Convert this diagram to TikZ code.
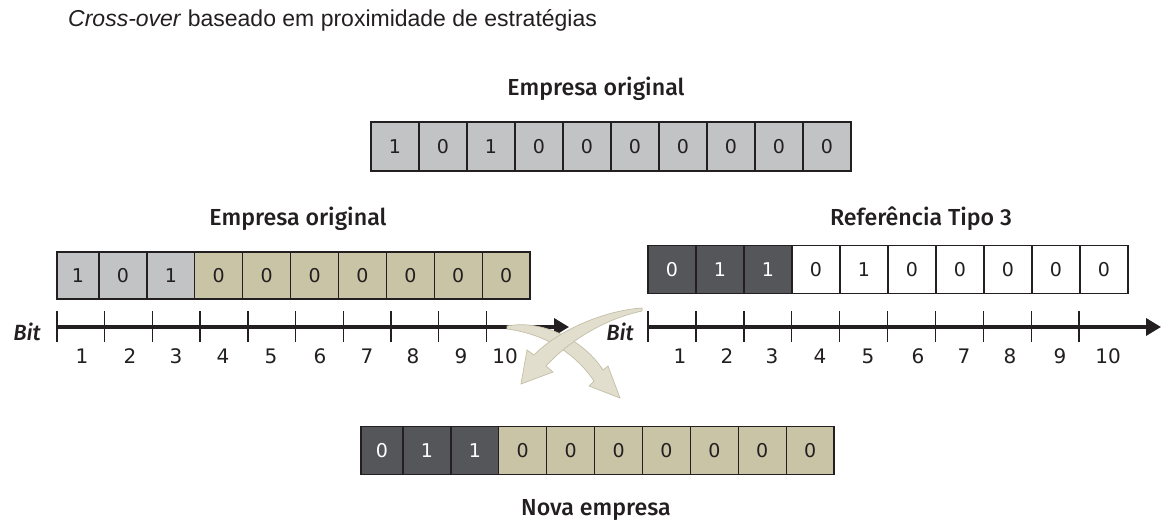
\documentclass[tikz,border=0pt]{standalone}
\usepackage{fontspec}
\setmainfont{Liberation Sans}
\newfontfamily\medfont{Fira Sans}[UprightFont=* Medium, ItalicFont=* Medium Italic, BoldFont=* Medium]
\newfontfamily\digfont{DejaVu Sans}
\usetikzlibrary{arrows.meta}
\definecolor{lg}{HTML}{C2C3C5}
\definecolor{kh}{HTML}{C9C4A6}
\definecolor{dk}{HTML}{55565A}
\definecolor{ln}{HTML}{231F20}
\definecolor{arf}{HTML}{E2DECD}
\definecolor{are}{HTML}{C3BEA6}
\begin{document}
\begin{tikzpicture}[x=1pt,y=-1pt,
  cell/.style={draw=ln, line width=1.3pt, inner sep=0pt, font=\digfont\fontsize{19}{19}\selectfont, text=ln},
  darkcell/.style={cell, fill=dk, text=white},
  head/.style={font=\medfont\fontsize{23.2}{23}\selectfont, text=ln, inner sep=0pt},
  lab/.style={font=\digfont\fontsize{20}{20}\selectfont, text=ln, inner sep=0pt},
  bitlab/.style={font=\medfont\itshape\fontsize{22}{22}\selectfont, text=ln, inner sep=0pt},
  axis/.style={draw=ln, line width=3.5pt, -{Triangle[length=15pt,width=17pt]}},
  tickmark/.style={draw=ln, line width=1.4pt},
  crossarrow/.style={fill=arf, draw=are, line width=0.7pt}]
\useasboundingbox (0,0) rectangle (1169,521);

% title
\node[anchor=west, font=\fontsize{23}{23}\selectfont, text=ln, inner sep=0pt] (title) at (68,20) {\textit{Cross-over} baseado em proximidade de estratégias};

% top array
\node[head] (h1) at (596,89) {Empresa original};
\foreach \v [count=\i] in {1,0,1,0,0,0,0,0,0,0}
  \node[cell, fill=lg, minimum width=48pt, minimum height=49pt] (t\i) at ({371+48*(\i-1)+24},146.5) {\v};

% left array
\node[head] (h2) at (298,219) {Empresa original};
\foreach \v [count=\i] in {1,0,1,0,0,0,0,0,0,0}{
  \pgfmathsetmacro\L{\i==1 ? 57 : 99+47.9*(\i-2)}
  \pgfmathsetmacro\R{99+47.9*(\i-1)}
  \pgfmathsetmacro\C{(\L+\R)/2}
  \pgfmathsetmacro\W{\R-\L}
  \ifnum\i<4
    \node[cell, fill=lg, minimum width=\W pt, minimum height=47pt] (l\i) at (\C,275.5) {\v};
  \else
    \node[cell, fill=kh, minimum width=\W pt, minimum height=47pt] (l\i) at (\C,275.5) {\v};
  \fi
}
\coordinate (ax1s) at (57,327);
\coordinate (ax1e) at (569,327);
\draw[axis] (ax1s) -- (ax1e);
\foreach \k in {0,...,9}
  \draw[tickmark] ({57+47.7*\k},311) -- ++(0,31);
\foreach \x [count=\i] in {82,130,176,223,271,320,367,413,461,505}
  \node[lab] (la\i) at (\x,356) {\i};
\node[bitlab] (bit1) at (27,332) {Bit};

% right array
\node[head] (h3) at (921,219) {Referência Tipo 3};
\foreach \v [count=\i] in {0,1,1,0,1,0,0,0,0,0}{
  \ifnum\i<4
    \node[darkcell, minimum width=48pt, minimum height=47.5pt] (r\i) at ({648+48*(\i-1)+24},269.5) {\v};
  \else
    \node[cell, fill=white, minimum width=48pt, minimum height=47.5pt] (r\i) at ({648+48*(\i-1)+24},269.5) {\v};
  \fi
}
\coordinate (ax2s) at (648,327);
\coordinate (ax2e) at (1161,327);
\draw[axis] (ax2s) -- (ax2e);
\foreach \k in {0,...,9}
  \draw[tickmark] ({648+47.9*\k},311) -- ++(0,31);
\foreach \x [count=\i] in {680,727,772,820,868,918,964,1010,1060,1108}
  \node[lab] (ra\i) at (\x,356) {\i};
\node[bitlab] (bit2) at (620,332) {Bit};

% crossing arrows
\draw[crossarrow] (507,326) .. controls (545,319) and (585,342) .. (603,370) -- (608,366) -- (620,398) -- (589,386) -- (594,381) .. controls (575,353) and (545,334) .. (507,329) -- cycle;
\draw[crossarrow] (642,308) .. controls (600,311) and (555,333) .. (534,355) -- (527,350) -- (521,384) -- (553,372) -- (546,366) .. controls (565,345) and (600,320) .. (642,311) -- cycle;

% bottom array
\foreach \v [count=\i] in {0,1,1,0,0,0,0,0,0,0}{
  \pgfmathsetmacro\L{\i==1 ? 361 : 403+47.9*(\i-2)}
  \pgfmathsetmacro\R{403+47.9*(\i-1)}
  \pgfmathsetmacro\C{(\L+\R)/2}
  \pgfmathsetmacro\W{\R-\L}
  \ifnum\i<4
    \node[darkcell, minimum width=\W pt, minimum height=47.5pt] (b\i) at (\C,450.5) {\v};
  \else
    \node[cell, fill=kh, minimum width=\W pt, minimum height=47.5pt] (b\i) at (\C,450.5) {\v};
  \fi
}
\node[head] (h4) at (596,510) {Nova empresa};
\end{tikzpicture}
\end{document}
